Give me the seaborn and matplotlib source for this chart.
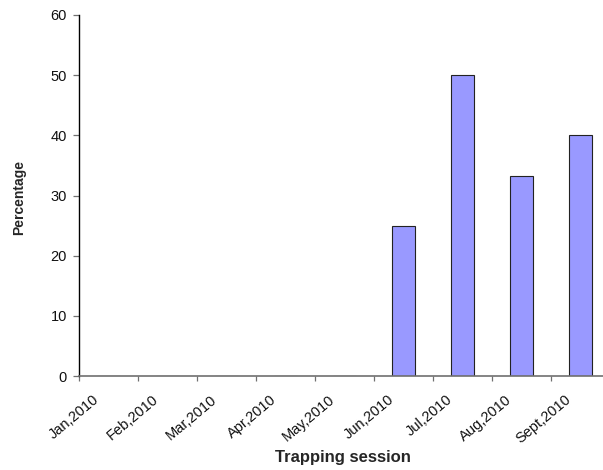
import matplotlib
matplotlib.use("Agg")
import matplotlib.pyplot as plt
import matplotlib.transforms as mtransforms
import seaborn as sns
import pandas as pd

# Monthly trapping sessions and the percentage recorded in each
sessions = ["Jan,2010", "Feb,2010", "Mar,2010", "Apr,2010", "May,2010",
            "Jun,2010", "Jul,2010", "Aug,2010", "Sept,2010"]
percentages = [0, 0, 0, 0, 0, 25, 50, 33.3, 40]
y_ticks = [0, 10, 20, 30, 40, 50, 60]

sns.set_theme(style="white")
plt.rcParams["font.family"] = ["Liberation Sans", "DejaVu Sans"]

# bars sit in the middle of each session slot, tick marks on slot boundaries
df = pd.DataFrame({
    "slot": [i + 0.5 for i in range(len(sessions))],
    "pct": percentages,
})

fig = plt.figure(figsize=(6.03, 4.70), dpi=100)
ax = fig.add_axes([79 / 603, 94 / 470, 531 / 603, 361 / 470])

sns.barplot(data=df, x="slot", y="pct", native_scale=True, width=0.4,
            color="#9999FF", saturation=1, edgecolor="#222222",
            linewidth=0.8, errorbar=None, ax=ax)

sns.despine(ax=ax)
ax.spines["left"].set_color("#000000")
ax.spines["left"].set_linewidth(1.0)
ax.spines["bottom"].set_color("#707070")
ax.spines["bottom"].set_linewidth(1.2)
ax.tick_params(axis="y", direction="out", length=4.5, width=0.9,
               color="#707070", pad=4.3, left=True)
ax.tick_params(axis="x", direction="out", length=3.6, width=0.9,
               color="#707070", pad=0, bottom=True)

ax.set_xlim(0, len(sessions))
ax.set_ylim(0, 60)
ax.set_yticks(y_ticks)
ax.set_yticklabels([str(v) for v in y_ticks], fontsize=10.5, color="#111111")
ax.set_xticks(range(len(sessions)))
ax.set_xticklabels(sessions, fontsize=10.5, rotation=40, ha="right",
                   va="center", rotation_mode="anchor", color="#111111")

# push each rotated session label down and to the right of its tick
offset = mtransforms.ScaledTranslation(0.18, -0.17, fig.dpi_scale_trans)
for lbl in ax.get_xticklabels():
    lbl.set_transform(lbl.get_transform() + offset)

ax.set_ylabel("Percentage", fontsize=10, fontweight="bold")
ax.yaxis.label.set_va("center")
ax.yaxis.set_label_coords(-0.113, 0.494)
ax.set_xlabel("Trapping session", fontsize=12, fontweight="bold")
ax.xaxis.label.set_va("center")
ax.xaxis.set_label_coords(0.497, -0.227)

fig.savefig("out.png", dpi=100)
